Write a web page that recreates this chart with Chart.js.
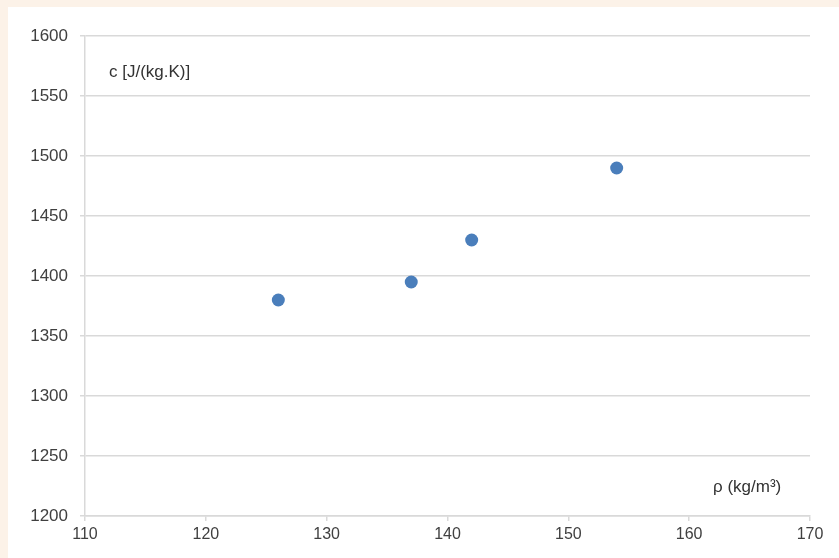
<!DOCTYPE html>
<html>
<head>
<meta charset="utf-8">
<script src="https://cdn.jsdelivr.net/npm/chart.js@4"></script>
<style>
  html, body { margin: 0; padding: 0; background: #fcf2e8; }
  #panel { position: absolute; left: 8px; top: 7px; width: 831px; height: 551px; background: #ffffff; }
  #chart { display: block; }
</style>
</head>
<body>
<div id="panel"><canvas id="chart" width="831" height="551"></canvas></div>
<script>
// density vs specific heat, four measured samples
const densities = [126, 137, 142, 154];
const heatCapacities = [1380, 1395, 1430, 1490];

const xTicks = [110, 120, 130, 140, 150, 160, 170];
const yTicks = [1200, 1250, 1300, 1350, 1400, 1450, 1500, 1550, 1600];

const yLabel = 'c [J/(kg.K)]';
const xLabel = 'ρ (kg/m³)';

const GRID = '#d9d9d9';
const TEXT = '#404040';
const FAMILY = 'Liberation Sans, Arial, sans-serif';

// axis captions sit inside the plot area, like in the spreadsheet chart
const captions = {
  id: 'captions',
  afterDraw(chart) {
    const { ctx, chartArea } = chart;
    ctx.save();
    ctx.fillStyle = '#333333';
    ctx.font = '17px "Liberation Sans", Arial, sans-serif';
    ctx.textBaseline = 'middle';
    ctx.textAlign = 'left';
    ctx.fillText(yLabel, chartArea.left + 24, chartArea.top + 36);
    ctx.fillText(xLabel, chartArea.right - 97, chartArea.bottom - 29);
    ctx.restore();
  }
};

const ctx = document.getElementById('chart').getContext('2d');
new Chart(ctx, {
  type: 'scatter',
  data: {
    datasets: [{
      data: densities.map((d, i) => ({ x: d, y: heatCapacities[i] })),
      backgroundColor: '#4a7ebb',
      borderColor: '#4a7ebb',
      borderWidth: 0,
      pointRadius: 6.5,
      pointHoverRadius: 6.5
    }]
  },
  options: {
    responsive: false,
    animation: false,
    events: [],
    layout: { padding: { top: 29, right: 29, left: 0, bottom: 0 } },
    plugins: {
      legend: { display: false },
      tooltip: { enabled: false }
    },
    scales: {
      x: {
        type: 'linear',
        min: 110,
        max: 170,
        afterBuildTicks: s => { s.ticks = xTicks.map(v => ({ value: v })); },
        afterFit: s => { s.height = 42; },
        grid: { drawOnChartArea: false, drawTicks: true, tickLength: 5, color: GRID, lineWidth: 1.5 },
        border: { color: GRID, width: 1.5 },
        ticks: { color: TEXT, font: { family: FAMILY, size: 16 }, padding: 4, maxRotation: 0, callback: v => String(v) }
      },
      y: {
        type: 'linear',
        min: 1200,
        max: 1600,
        afterBuildTicks: s => { s.ticks = yTicks.map(v => ({ value: v })); },
        afterFit: s => { s.width = 77; },
        grid: { drawTicks: true, tickLength: 5, color: GRID, lineWidth: 1.5 },
        border: { color: GRID, width: 1.5 },
        ticks: { color: TEXT, font: { family: FAMILY, size: 17 }, padding: 12, callback: v => String(v) }
      }
    }
  },
  plugins: [captions]
});
</script>
</body>
</html>
